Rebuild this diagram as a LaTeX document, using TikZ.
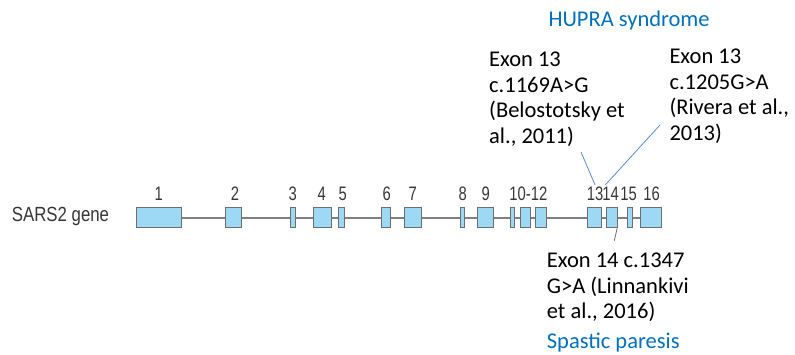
\documentclass[tikz,border=0pt]{standalone}
\usepackage{fontspec}
\setmainfont{Carlito}
\newfontfamily\genefont[FakeStretch=0.82]{Liberation Sans}
\newfontfamily\numfont[FakeStretch=0.76]{Liberation Sans}
\usetikzlibrary{positioning}
\definecolor{exonfill}{RGB}{157,217,245}
\definecolor{exonedge}{RGB}{110,110,110}
\definecolor{intron}{RGB}{128,128,128}
\definecolor{genetext}{RGB}{55,55,55}
\definecolor{diseaseblue}{RGB}{0,112,192}
\definecolor{pointer}{RGB}{91,139,210}
\tikzset{%
  exon/.style={draw=exonedge, fill=exonfill, line width=1pt, minimum height=20pt, inner sep=0pt},
  exnum/.style={font=\numfont\fontsize{19.5}{19.5}\selectfont, text=genetext, anchor=base, inner sep=2pt},
  note/.style={font=\fontsize{22.5}{25.5}\selectfont, align=left, anchor=north west, inner sep=0pt},
  disease/.style={font=\fontsize{22.5}{25}\selectfont, text=diseaseblue, anchor=base west, inner sep=0pt},
  intronline/.style={draw=intron, line width=1.6pt},
  %pointerline/.style={draw=pointer, line width=0.8pt}
}

\begin{document}
\begin{tikzpicture}[x=1pt,y=-1pt]
\useasboundingbox (0,0) rectangle (795,354);
% exons: number / centre / width
\foreach \i/\c/\w in {1/158.5/45,2/233/16,3/292.5/5,4/322.7/18,5/341/6,6/385.5/9,
  7/413.2/17,8/462.3/4,9/485.7/16,10/512.3/4,11/525.2/10.3,12/540.8/11,
  13/594.5/13.6,14/612.3/10.7,15/630.2/5,16/651.3/21.3}
  \node[exon, minimum width=\w pt] (e\i) at (\c,217.8) {};
\foreach \a/\b in {1/2,2/3,3/4,4/5,5/6,6/7,7/8,8/9,9/10,10/11,11/12,12/13,13/14,14/15,15/16}
  \draw[intronline] (e\a.east) -- (e\b.west);
% exon numbers
\foreach \n/\t/\x in {1/1/158.7,2/2/235,3/3/292.7,4/4/321.7,5/5/342.7,6/6/386.7,7/7/412.7,
  8/8/462.7,9/9/485.7,10/10-12/528.3,13/13/595,14/14/610.5,15/15/628.5,16/16/651.7}
  \node[exnum] (l\n) at (\x,200.6) {\t};
\node[font=\genefont\fontsize{20.5}{20.5}\selectfont, text=genetext, anchor=base west, inner sep=0pt] (gene) at (11.7,221) {SARS2 gene};

\node[disease] (hupra) at (548.3,26.7) {HUPRA syndrome};
\node[note] (belo) at (489,52) {Exon 13\\c.1169A>G\\(Belostotsky et\\al., 2011)};
\node[note] (rivera) at (669.3,49) {Exon 13\\c.1205G>A\\(Rivera et al.,\\2013)};
\node[note] (linna) at (546.7,253) {Exon 14 c.1347\\G>A (Linnankivi\\et al., 2016)};
\node[disease] (spastic) at (546.7,348.3) {Spastic paresis};

\coordinate (belotip) at (581,152);
\coordinate (riveratip) at (660,125);
\coordinate (linnatip) at (614.3,240.7);
\draw[pointer, line width=0.8pt] (belotip) -- (l13.north);
\draw[pointer, line width=0.8pt] (riveratip) -- (l13.north east);
\draw[exonedge, line width=0.8pt] ([xshift=-1pt]e14.south east) -- (linnatip);
\end{tikzpicture}
\end{document}
